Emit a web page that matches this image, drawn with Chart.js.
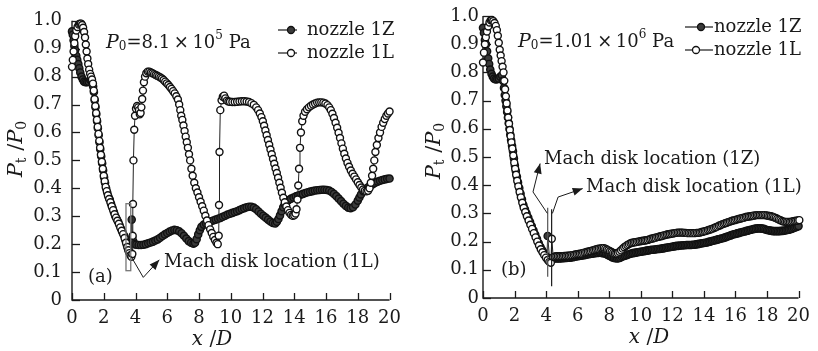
<!DOCTYPE html>
<html><head><meta charset="utf-8">
<script src="https://cdn.jsdelivr.net/npm/chart.js@4.4.1/dist/chart.umd.min.js"></script>
<style>
html,body{margin:0;padding:0;background:#fff;}
#wrap{position:relative;width:818px;height:351px;overflow:hidden;background:#fff;}
canvas{position:absolute;top:0;}
#ca{left:0;width:409px;height:351px;}
#cb{left:409px;width:409px;height:351px;}
</style></head><body>
<div id="wrap"><canvas id="ca" width="409" height="351"></canvas><canvas id="cb" width="409" height="351"></canvas></div>
<script>
// ---------------- DATA (x/D, Pt/P0) ----------------
const xTickLabels = ['0','2','4','6','8','10','12','14','16','18','20'];
const yTickLabels = ['0','0.1','0.2','0.3','0.4','0.5','0.6','0.7','0.8','0.9','1.0'];
const seriesNames = ['nozzle 1Z','nozzle 1L'];

// panel (a) P0 = 8.1e5 Pa, nozzle 1Z
const a1Z = [[0.00,0.962],[0.05,0.95],[0.10,0.93],[0.15,0.91],[0.20,0.895],[0.27,0.875],[0.33,0.86],[0.40,0.845],[0.46,0.83],[0.52,0.815],[0.60,0.80],[0.68,0.79],[0.76,0.782],[0.85,0.78],[0.95,0.78],[1.05,0.782],[1.15,0.788],[1.22,0.79],[1.28,0.78],[1.33,0.765],[1.38,0.745],[1.43,0.715],[1.48,0.69],[1.53,0.665],[1.58,0.64],[1.63,0.615],[1.68,0.59],[1.73,0.565],[1.78,0.54],[1.84,0.515],[1.90,0.49],[1.96,0.465],[2.02,0.44],[2.08,0.42],[2.15,0.40],[2.22,0.385],[2.30,0.37],[2.38,0.36],[2.46,0.345],[2.55,0.33],[2.64,0.315],[2.73,0.30],[2.82,0.29],[2.91,0.28],[3.00,0.268],[3.09,0.255],[3.18,0.243],[3.27,0.232],[3.36,0.215],[3.45,0.198],[3.52,0.185],[3.58,0.175],[3.64,0.168],[3.70,0.165],[3.76,0.288],[3.80,0.225],[3.86,0.21],[3.95,0.20],[4.05,0.198],[4.20,0.197],[4.35,0.197],[4.50,0.198],[4.65,0.20],[4.80,0.203],[4.95,0.206],[5.10,0.209],[5.25,0.213],[5.40,0.217],[5.55,0.223],[5.70,0.229],[5.85,0.235],[6.00,0.24],[6.15,0.245],[6.30,0.249],[6.45,0.251],[6.60,0.25],[6.75,0.246],[6.90,0.239],[7.05,0.23],[7.20,0.22],[7.35,0.211],[7.50,0.205],[7.65,0.202],[7.75,0.205],[7.85,0.218],[7.95,0.235],[8.05,0.25],[8.15,0.262],[8.30,0.27],[8.45,0.274],[8.60,0.278],[8.75,0.282],[8.90,0.285],[9.05,0.288],[9.20,0.291],[9.35,0.294],[9.50,0.298],[9.65,0.302],[9.80,0.306],[9.95,0.309],[10.10,0.312],[10.25,0.315],[10.40,0.318],[10.55,0.322],[10.70,0.326],[10.85,0.329],[11.00,0.332],[11.15,0.334],[11.30,0.334],[11.45,0.331],[11.60,0.325],[11.75,0.317],[11.90,0.309],[12.05,0.302],[12.20,0.295],[12.35,0.288],[12.50,0.281],[12.65,0.276],[12.80,0.274],[12.90,0.28],[13.00,0.29],[13.10,0.303],[13.20,0.318],[13.30,0.332],[13.40,0.343],[13.50,0.351],[13.65,0.358],[13.80,0.363],[13.95,0.367],[14.10,0.371],[14.25,0.374],[14.40,0.377],[14.55,0.38],[14.70,0.383],[14.85,0.386],[15.00,0.388],[15.15,0.39],[15.30,0.392],[15.45,0.393],[15.60,0.394],[15.75,0.395],[15.90,0.395],[16.05,0.394],[16.20,0.392],[16.35,0.387],[16.50,0.38],[16.65,0.372],[16.80,0.363],[16.95,0.354],[17.10,0.345],[17.25,0.337],[17.40,0.331],[17.55,0.329],[17.70,0.332],[17.85,0.342],[18.00,0.356],[18.10,0.367],[18.20,0.378],[18.35,0.39],[18.50,0.398],[18.65,0.404],[18.80,0.41],[18.95,0.415],[19.10,0.42],[19.25,0.424],[19.40,0.427],[19.55,0.43],[19.70,0.432],[19.85,0.434],[20.00,0.435],[20.15,0.433]];

// panel (a) nozzle 1L
const a1L = [[0.00,0.835],[0.05,0.86],[0.10,0.89],[0.15,0.92],[0.20,0.945],[0.27,0.965],[0.35,0.978],[0.43,0.987],[0.50,0.99],[0.57,0.99],[0.64,0.985],[0.70,0.975],[0.76,0.96],[0.82,0.94],[0.87,0.915],[0.92,0.89],[0.97,0.865],[1.02,0.845],[1.08,0.825],[1.14,0.81],[1.20,0.80],[1.26,0.79],[1.32,0.775],[1.37,0.75],[1.42,0.72],[1.47,0.695],[1.52,0.67],[1.57,0.645],[1.62,0.62],[1.67,0.595],[1.72,0.57],[1.77,0.545],[1.82,0.52],[1.88,0.495],[1.94,0.47],[2.00,0.445],[2.06,0.425],[2.12,0.405],[2.19,0.39],[2.26,0.375],[2.34,0.362],[2.42,0.35],[2.50,0.336],[2.59,0.322],[2.68,0.307],[2.77,0.295],[2.86,0.284],[2.95,0.273],[3.04,0.26],[3.13,0.248],[3.22,0.236],[3.31,0.222],[3.40,0.205],[3.48,0.19],[3.55,0.178],[3.62,0.168],[3.68,0.16],[3.74,0.155],[3.80,0.165],[3.82,0.23],[3.84,0.344],[3.87,0.50],[3.92,0.61],[3.97,0.66],[4.03,0.685],[4.10,0.695],[4.17,0.69],[4.22,0.68],[4.27,0.665],[4.32,0.67],[4.37,0.69],[4.42,0.72],[4.47,0.75],[4.53,0.78],[4.60,0.80],[4.68,0.812],[4.77,0.818],[4.87,0.818],[4.97,0.815],[5.07,0.812],[5.17,0.809],[5.27,0.806],[5.37,0.803],[5.47,0.80],[5.57,0.797],[5.67,0.793],[5.77,0.788],[5.87,0.782],[5.97,0.776],[6.07,0.77],[6.17,0.763],[6.27,0.756],[6.37,0.748],[6.47,0.74],[6.57,0.73],[6.67,0.718],[6.75,0.70],[6.82,0.68],[6.88,0.66],[6.95,0.645],[7.02,0.625],[7.09,0.605],[7.16,0.585],[7.23,0.565],[7.30,0.545],[7.37,0.522],[7.44,0.50],[7.52,0.47],[7.60,0.445],[7.70,0.42],[7.80,0.40],[7.90,0.385],[8.00,0.368],[8.10,0.352],[8.20,0.336],[8.30,0.32],[8.40,0.302],[8.50,0.285],[8.60,0.268],[8.70,0.253],[8.80,0.24],[8.90,0.226],[9.00,0.215],[9.10,0.205],[9.18,0.20],[9.24,0.23],[9.26,0.34],[9.29,0.53],[9.34,0.68],[9.42,0.715],[9.50,0.728],[9.58,0.732],[9.66,0.722],[9.75,0.714],[9.85,0.711],[9.95,0.71],[10.10,0.709],[10.25,0.709],[10.40,0.71],[10.55,0.711],[10.70,0.712],[10.85,0.712],[11.00,0.711],[11.15,0.709],[11.30,0.705],[11.45,0.699],[11.60,0.69],[11.72,0.68],[11.83,0.668],[11.93,0.655],[12.02,0.64],[12.10,0.624],[12.18,0.607],[12.26,0.59],[12.34,0.573],[12.42,0.556],[12.50,0.539],[12.58,0.522],[12.66,0.505],[12.74,0.488],[12.82,0.471],[12.90,0.455],[12.98,0.438],[13.06,0.42],[13.14,0.402],[13.22,0.384],[13.31,0.366],[13.40,0.35],[13.50,0.335],[13.60,0.322],[13.70,0.312],[13.80,0.305],[13.90,0.302],[14.00,0.303],[14.08,0.31],[14.14,0.325],[14.20,0.36],[14.25,0.41],[14.30,0.47],[14.36,0.545],[14.42,0.60],[14.50,0.64],[14.58,0.66],[14.68,0.674],[14.80,0.683],[14.92,0.69],[15.05,0.696],[15.18,0.70],[15.31,0.704],[15.44,0.707],[15.57,0.708],[15.70,0.708],[15.83,0.707],[15.96,0.704],[16.09,0.698],[16.20,0.69],[16.30,0.68],[16.40,0.667],[16.50,0.652],[16.60,0.635],[16.70,0.617],[16.79,0.599],[16.88,0.58],[16.97,0.561],[17.06,0.542],[17.15,0.524],[17.25,0.507],[17.35,0.491],[17.45,0.477],[17.56,0.464],[17.67,0.452],[17.78,0.442],[17.89,0.432],[18.00,0.422],[18.11,0.412],[18.22,0.403],[18.33,0.396],[18.44,0.391],[18.55,0.389],[18.65,0.391],[18.74,0.40],[18.82,0.42],[18.90,0.445],[18.97,0.47],[19.04,0.50],[19.11,0.53],[19.20,0.555],[19.30,0.58],[19.40,0.60],[19.50,0.62],[19.60,0.635],[19.70,0.648],[19.80,0.66],[19.90,0.668],[20.00,0.675],[20.10,0.682]];

// panel (b) P0 = 1.01e6 Pa, nozzle 1Z
const b1Z = [[0.00,0.958],[0.06,0.94],[0.12,0.915],[0.19,0.90],[0.26,0.875],[0.33,0.85],[0.39,0.83],[0.46,0.81],[0.54,0.795],[0.62,0.785],[0.70,0.778],[0.80,0.775],[0.90,0.776],[1.00,0.778],[1.10,0.785],[1.20,0.79],[1.27,0.77],[1.33,0.745],[1.38,0.72],[1.43,0.70],[1.48,0.68],[1.53,0.66],[1.58,0.64],[1.63,0.62],[1.68,0.60],[1.73,0.58],[1.78,0.56],[1.84,0.54],[1.90,0.52],[1.96,0.495],[2.02,0.47],[2.08,0.45],[2.15,0.43],[2.22,0.41],[2.30,0.39],[2.38,0.37],[2.47,0.35],[2.56,0.33],[2.66,0.315],[2.76,0.30],[2.87,0.285],[2.98,0.27],[3.09,0.255],[3.20,0.24],[3.31,0.225],[3.42,0.21],[3.53,0.195],[3.64,0.182],[3.75,0.17],[3.86,0.16],[3.97,0.15],[4.05,0.143],[4.10,0.22],[4.22,0.14],[4.3,0.14],[4.4,0.14],[4.5,0.14],[4.6,0.14],[4.7,0.14],[4.8,0.14],[4.9,0.14],[5.0,0.141],[5.1,0.141],[5.2,0.142],[5.3,0.142],[5.4,0.143],[5.5,0.143],[5.6,0.144],[5.7,0.145],[5.8,0.146],[5.9,0.147],[6.0,0.148],[6.1,0.149],[6.2,0.15],[6.3,0.151],[6.4,0.152],[6.5,0.153],[6.6,0.154],[6.7,0.155],[6.8,0.156],[6.9,0.157],[7.0,0.158],[7.1,0.159],[7.2,0.16],[7.3,0.16],[7.4,0.161],[7.5,0.16],[7.6,0.159],[7.7,0.158],[7.8,0.156],[7.9,0.153],[8.0,0.15],[8.1,0.147],[8.2,0.144],[8.3,0.142],[8.4,0.141],[8.5,0.14],[8.6,0.141],[8.7,0.143],[8.8,0.146],[8.9,0.148],[9.0,0.15],[9.1,0.152],[9.2,0.154],[9.3,0.156],[9.4,0.158],[9.5,0.159],[9.6,0.16],[9.7,0.161],[9.8,0.162],[9.9,0.163],[10.0,0.164],[10.1,0.165],[10.2,0.166],[10.3,0.167],[10.4,0.168],[10.5,0.169],[10.6,0.17],[10.7,0.171],[10.8,0.171],[10.9,0.172],[11.0,0.173],[11.1,0.174],[11.2,0.174],[11.3,0.175],[11.4,0.176],[11.5,0.177],[11.6,0.178],[11.7,0.179],[11.8,0.18],[11.9,0.181],[12.0,0.182],[12.1,0.183],[12.2,0.184],[12.3,0.185],[12.4,0.185],[12.5,0.186],[12.6,0.186],[12.7,0.187],[12.8,0.187],[12.9,0.188],[13.0,0.188],[13.1,0.188],[13.2,0.188],[13.3,0.189],[13.4,0.189],[13.5,0.19],[13.6,0.191],[13.7,0.192],[13.8,0.193],[13.9,0.194],[14.0,0.195],[14.1,0.196],[14.2,0.197],[14.3,0.199],[14.4,0.2],[14.5,0.202],[14.6,0.203],[14.7,0.205],[14.8,0.206],[14.9,0.208],[15.0,0.209],[15.1,0.211],[15.2,0.212],[15.3,0.214],[15.4,0.216],[15.5,0.218],[15.6,0.22],[15.7,0.222],[15.8,0.224],[15.9,0.226],[16.0,0.227],[16.1,0.229],[16.2,0.23],[16.3,0.232],[16.4,0.233],[16.5,0.235],[16.6,0.236],[16.7,0.238],[16.8,0.239],[16.9,0.241],[17.0,0.242],[17.1,0.244],[17.2,0.245],[17.3,0.246],[17.4,0.247],[17.5,0.247],[17.6,0.247],[17.7,0.246],[17.8,0.245],[17.9,0.243],[18.0,0.241],[18.1,0.24],[18.2,0.239],[18.3,0.238],[18.4,0.237],[18.5,0.237],[18.6,0.237],[18.7,0.237],[18.8,0.237],[18.9,0.238],[19.0,0.238],[19.1,0.239],[19.2,0.24],[19.3,0.241],[19.4,0.242],[19.5,0.244],[19.6,0.246],[19.7,0.248],[19.8,0.25],[19.9,0.253],[20.0,0.255],[20.1,0.258]];

// panel (b) nozzle 1L
const b1L = [[0.00,0.835],[0.06,0.87],[0.12,0.90],[0.18,0.925],[0.25,0.945],[0.33,0.963],[0.41,0.977],[0.49,0.985],[0.57,0.986],[0.65,0.982],[0.73,0.975],[0.81,0.965],[0.88,0.95],[0.94,0.93],[1.00,0.905],[1.06,0.88],[1.12,0.86],[1.18,0.84],[1.24,0.82],[1.30,0.80],[1.35,0.77],[1.40,0.74],[1.45,0.715],[1.50,0.69],[1.55,0.665],[1.60,0.64],[1.65,0.618],[1.70,0.596],[1.75,0.574],[1.80,0.552],[1.86,0.53],[1.92,0.505],[1.98,0.48],[2.04,0.458],[2.10,0.437],[2.17,0.416],[2.24,0.396],[2.32,0.376],[2.40,0.357],[2.49,0.338],[2.58,0.32],[2.68,0.305],[2.78,0.29],[2.89,0.275],[3.00,0.26],[3.11,0.245],[3.22,0.23],[3.33,0.215],[3.44,0.20],[3.55,0.186],[3.66,0.173],[3.77,0.162],[3.88,0.152],[3.99,0.143],[4.10,0.135],[4.20,0.128],[4.30,0.125],[4.36,0.21],[4.45,0.145],[4.55,0.147],[4.65,0.148],[4.75,0.148],[4.85,0.148],[4.95,0.148],[5.05,0.148],[5.15,0.149],[5.25,0.149],[5.35,0.15],[5.45,0.15],[5.55,0.151],[5.65,0.152],[5.75,0.153],[5.85,0.154],[5.95,0.155],[6.05,0.156],[6.15,0.157],[6.25,0.158],[6.35,0.16],[6.45,0.161],[6.55,0.163],[6.65,0.164],[6.75,0.166],[6.85,0.167],[6.95,0.169],[7.05,0.17],[7.15,0.172],[7.25,0.174],[7.35,0.175],[7.45,0.176],[7.55,0.177],[7.65,0.177],[7.75,0.175],[7.85,0.172],[7.95,0.169],[8.05,0.166],[8.15,0.163],[8.25,0.16],[8.35,0.158],[8.45,0.158],[8.55,0.16],[8.65,0.164],[8.75,0.169],[8.85,0.175],[8.95,0.18],[9.05,0.184],[9.15,0.188],[9.25,0.191],[9.35,0.194],[9.45,0.196],[9.55,0.197],[9.65,0.198],[9.75,0.199],[9.85,0.2],[9.95,0.201],[10.05,0.202],[10.15,0.203],[10.25,0.204],[10.35,0.205],[10.45,0.206],[10.55,0.208],[10.65,0.21],[10.75,0.211],[10.85,0.213],[10.95,0.214],[11.05,0.216],[11.15,0.217],[11.25,0.219],[11.35,0.22],[11.45,0.222],[11.55,0.223],[11.65,0.225],[11.75,0.226],[11.85,0.227],[11.95,0.228],[12.05,0.229],[12.15,0.23],[12.25,0.231],[12.35,0.232],[12.45,0.232],[12.55,0.232],[12.65,0.232],[12.75,0.231],[12.85,0.231],[12.95,0.23],[13.05,0.23],[13.15,0.23],[13.25,0.23],[13.35,0.23],[13.45,0.23],[13.55,0.231],[13.65,0.231],[13.75,0.232],[13.85,0.234],[13.95,0.235],[14.05,0.237],[14.15,0.238],[14.25,0.24],[14.35,0.242],[14.45,0.244],[14.55,0.246],[14.65,0.248],[14.75,0.251],[14.85,0.253],[14.95,0.256],[15.05,0.258],[15.15,0.261],[15.25,0.263],[15.35,0.265],[15.45,0.267],[15.55,0.269],[15.65,0.271],[15.75,0.273],[15.85,0.275],[15.95,0.276],[16.05,0.278],[16.15,0.279],[16.25,0.281],[16.35,0.282],[16.45,0.284],[16.55,0.285],[16.65,0.287],[16.75,0.288],[16.85,0.289],[16.95,0.29],[17.05,0.291],[17.15,0.292],[17.25,0.293],[17.35,0.294],[17.45,0.294],[17.55,0.294],[17.65,0.294],[17.75,0.294],[17.85,0.294],[17.95,0.293],[18.05,0.292],[18.15,0.291],[18.25,0.29],[18.35,0.288],[18.45,0.286],[18.55,0.284],[18.65,0.281],[18.75,0.278],[18.85,0.276],[18.95,0.273],[19.05,0.271],[19.15,0.27],[19.25,0.27],[19.35,0.27],[19.45,0.27],[19.55,0.271],[19.65,0.272],[19.75,0.273],[19.85,0.274],[19.95,0.275],[20.05,0.276],[20.15,0.278]];

// ---------------- RENDERING ----------------
const FONT = '"DejaVu Serif", "Liberation Serif", serif';
const INK = '#1a1a1a';

function fontStr(size, italic){ return (italic ? 'italic ' : '') + size + 'px ' + FONT; }
// parts: [text, size, italic, dy]
function rich(ctx, parts, x, y, align){
  let w = 0;
  parts.forEach(p => { ctx.font = fontStr(p[1], p[2]); w += ctx.measureText(p[0]).width; });
  let cx = align === 'center' ? x - w / 2 : x;
  ctx.textAlign = 'left'; ctx.textBaseline = 'middle'; ctx.fillStyle = INK;
  parts.forEach(p => { ctx.font = fontStr(p[1], p[2]); ctx.fillText(p[0], cx, y + (p[3] || 0)); cx += ctx.measureText(p[0]).width; });
}
function seg(ctx, pts){ ctx.beginPath(); ctx.moveTo(pts[0][0], pts[0][1]); for (let i = 1; i < pts.length; i++) ctx.lineTo(pts[i][0], pts[i][1]); ctx.stroke(); }
function arrowHead(ctx, x1, y1, x2, y2){
  const a = Math.atan2(y2 - y1, x2 - x1), L = 10, W = 4, c = Math.cos(a), s = Math.sin(a);
  ctx.beginPath(); ctx.moveTo(x2, y2);
  ctx.lineTo(x2 - L * c + W * s, y2 - L * s - W * c);
  ctx.lineTo(x2 - L * c - W * s, y2 - L * s + W * c);
  ctx.closePath(); ctx.fill();
}

const TS = 18; // annotation text size
const panels = {
  ca: {
    label: '(a)', labelPos: [88, 277],
    p0: [['P',19,true],['0',12,false,4],['=8.1\u2009×\u200910',18,false],['5',12,false,-7],[' Pa',18,false]], p0Pos: [106, 43],
    legend: {rows: [30, 53], line: [278, 297], marker: [291, 291], text: 307},
    xTitlePos: [212, 340], yTitlePos: [17, 149],
    annot(ctx, X, Y){
      ctx.strokeStyle = '#777'; ctx.lineWidth = 1.3;
      const l = X(3.40), r = X(3.70), t = Y(0.345), b = Y(0.105);
      ctx.strokeRect(l, t, r - l, b - t);
      ctx.strokeStyle = INK; ctx.fillStyle = INK; ctx.lineWidth = 1;
      const p1 = [X(3.70), Y(0.158)], p2 = [X(4.49), Y(0.081)], p3 = [X(5.50), Y(0.144)];
      seg(ctx, [p1, p2, p3]); arrowHead(ctx, p2[0], p2[1], p3[0], p3[1]);
      rich(ctx, [['Mach disk location (1L)', TS, false]], 164, 262, 'left');
    }
  },
  cb: {
    label: '(b)', labelPos: [92, 270],
    p0: [['P',19,true],['0',12,false,4],['=1.01\u2009×\u200910',18,false],['6',12,false,-7],[' Pa',18,false]], p0Pos: [109, 42],
    legend: {rows: [27, 50], line: [276, 304], marker: [292, 287], text: 305},
    xTitlePos: [240, 338], yTitlePos: [26, 151],
    annot(ctx, X, Y){
      ctx.strokeStyle = '#555'; ctx.lineWidth = 1.2;
      seg(ctx, [[X(4.10), Y(0.32)], [X(4.10), Y(0.075)]]);
      ctx.strokeStyle = INK;
      seg(ctx, [[X(4.35), Y(0.315)], [X(4.35), Y(0.042)]]);
      ctx.fillStyle = INK; ctx.lineWidth = 1;
      let q1 = [X(4.08), Y(0.30)], q2 = [X(3.17), Y(0.376)], q3 = [X(3.62), Y(0.477)];
      seg(ctx, [q1, q2, q3]); arrowHead(ctx, q2[0], q2[1], q3[0], q3[1]);
      let r1 = [X(4.40), Y(0.30)], r2 = [X(4.76), Y(0.358)], r3 = [X(6.32), Y(0.388)];
      seg(ctx, [r1, r2, r3]); arrowHead(ctx, r2[0], r2[1], r3[0], r3[1]);
      rich(ctx, [['Mach disk location (1Z)', TS, false]], 135, 159, 'left');
      rich(ctx, [['Mach disk location (1L)', TS, false]], 177, 187, 'left');
    }
  }
};

const deco = {
  id: 'deco',
  beforeDatasetsDraw(chart){
    const {ctx, chartArea: a, scales: {x, y}} = chart;
    ctx.save();
    ctx.strokeStyle = INK; ctx.lineWidth = 1.4;
    seg(ctx, [[a.left, y.getPixelForValue(1)], [a.left, a.bottom], [x.getPixelForValue(20), a.bottom]]);
    ctx.lineWidth = 1.3;
    xTickLabels.forEach(v => { const px = Math.round(x.getPixelForValue(+v)) + 0.5; seg(ctx, [[px, a.bottom], [px, a.bottom - 7]]); });
    yTickLabels.forEach(v => { const py = Math.round(y.getPixelForValue(+v)) + 0.5; seg(ctx, [[a.left, py], [a.left + 8, py]]); });
    ctx.restore();
  },
  afterDraw(chart){
    const cfg = panels[chart.canvas.id];
    const {ctx, scales: {x, y}} = chart;
    const X = v => x.getPixelForValue(v), Y = v => y.getPixelForValue(v);
    ctx.save();
    cfg.annot(ctx, X, Y);
    rich(ctx, cfg.p0, cfg.p0Pos[0], cfg.p0Pos[1], 'left');
    rich(ctx, [[cfg.label, TS, false]], cfg.labelPos[0], cfg.labelPos[1], 'left');
    // legend
    const L = cfg.legend;
    chart.data.datasets.forEach((ds, i) => {
      const yy = L.rows[i];
      ctx.strokeStyle = INK; ctx.lineWidth = 1.2;
      seg(ctx, [[L.line[0], yy], [L.line[1], yy]]);
      ctx.beginPath(); ctx.arc(L.marker[i], yy, 3.5, 0, Math.PI * 2);
      ctx.fillStyle = ds.pointBackgroundColor; ctx.fill(); ctx.strokeStyle = ds.pointBorderColor; ctx.lineWidth = 1.3; ctx.stroke();
      rich(ctx, [[ds.label, TS, false]], L.text, yy, 'left');
    });
    // axis titles
    rich(ctx, [['x', 20, true], [' /', 20, false], ['D', 20, true]], cfg.xTitlePos[0], cfg.xTitlePos[1], 'center');
    ctx.save();
    ctx.translate(cfg.yTitlePos[0], cfg.yTitlePos[1]); ctx.rotate(-Math.PI / 2);
    rich(ctx, [['P', 21, true], ['t', 14, false, 5], [' /', 21, false], ['P', 21, true], ['0', 14, false, 5]], 0, 0, 'center');
    ctx.restore();
    ctx.restore();
  }
};

function makeChart(id, dz, dl, geom){
  const toXY = arr => arr.map(p => ({x: p[0], y: p[1]}));
  return new Chart(document.getElementById(id), {
    type: 'line',
    data: {
      datasets: [
        {label: seriesNames[0], data: toXY(dz), order: 2, borderColor: '#222', borderWidth: 1,
         pointRadius: 3.6, pointBackgroundColor: '#3a3a3a', pointBorderColor: '#111', pointBorderWidth: 1.4, clip: false, tension: 0},
        {label: seriesNames[1], data: toXY(dl), order: 1, borderColor: '#222', borderWidth: 1,
         pointRadius: 3.5, pointBackgroundColor: '#ffffff', pointBorderColor: '#111', pointBorderWidth: 1.4, clip: false, tension: 0}
      ]
    },
    options: {
      responsive: false, animation: false, devicePixelRatio: 1,
      layout: {padding: {top: 16, right: geom.right, left: 0, bottom: 0}},
      plugins: {legend: {display: false}, tooltip: {enabled: false}},
      scales: {
        x: {type: 'linear', min: 0, max: 20, bounds: 'ticks',
            afterBuildTicks: s => { s.ticks = xTickLabels.map(v => ({value: +v})); },
            ticks: {callback: (v, i) => xTickLabels[i], font: {family: FONT, size: 18}, color: INK, padding: 8, maxRotation: 0, autoSkip: false},
            grid: {display: false, drawTicks: false}, border: {display: false},
            afterFit: s => { s.height = geom.xh; }},
        y: {type: 'linear', min: 0, max: 1,
            afterBuildTicks: s => { s.ticks = yTickLabels.map(v => ({value: +v})); },
            ticks: {callback: (v, i) => yTickLabels[i], font: {family: FONT, size: 18}, color: INK, padding: geom.ypad, autoSkip: false},
            grid: {display: false, drawTicks: false}, border: {display: false},
            afterFit: s => { s.width = geom.yw; }}
      }
    },
    plugins: [deco]
  });
}

makeChart('ca', a1Z, a1L, {right: 14, xh: 51, yw: 72, ypad: 10});
makeChart('cb', b1Z, b1L, {right: 13, xh: 53, yw: 74, ypad: 4});
</script></body></html>
